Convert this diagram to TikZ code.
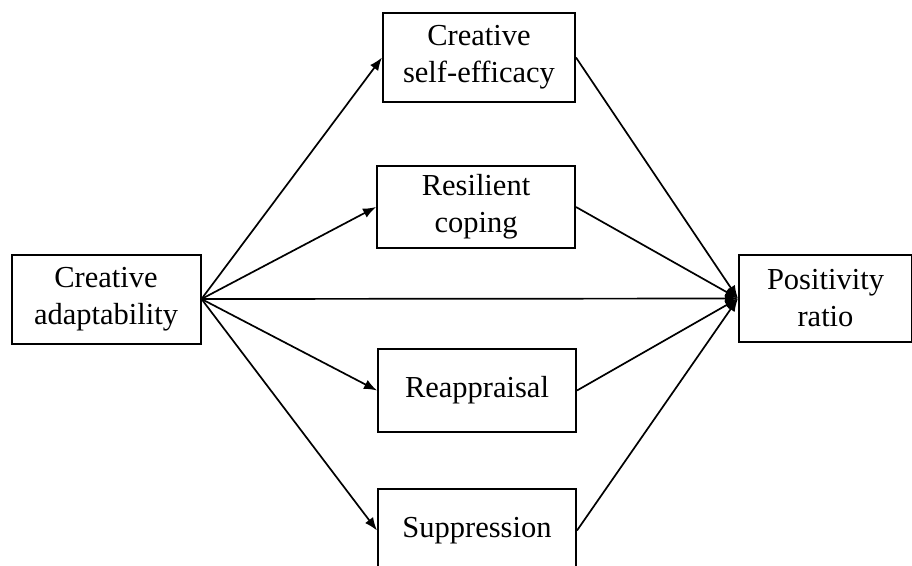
\documentclass[tikz,border=0pt]{standalone}
\usepackage{fontspec}
\setmainfont{Liberation Serif}
\usetikzlibrary{arrows.meta}

\begin{document}
\begin{tikzpicture}[x=1pt,y=-1pt,
  box/.style={rectangle,draw,line width=2pt,align=center,inner sep=0pt,
    font=\fontsize{30.5}{37}\selectfont},
  path/.style={line width=1.7pt,-{Latex[length=13pt,width=10pt]}}]
    \useasboundingbox (0,0) rectangle (912,565);
    % Predictor and outcome
    \node[box,minimum width=189pt,minimum height=89pt] (adapt) at (106,299)
      {Creative\\adaptability};
    \node[box,minimum width=173pt,minimum height=87pt] (ratio) at (825.5,298.5)
      {Positivity\\ratio};
    % Mediators
    \node[box,minimum width=192pt,minimum height=89pt] (efficacy) at (479,57.5)
      {Creative\\self-efficacy};
    \node[box,minimum width=198pt,minimum height=82pt] (coping) at (476,207)
      {Resilient\\coping};
    \node[box,minimum width=198pt,minimum height=83pt] (reapp) at (477,390.5)
      {Reappraisal};
    \node[box,minimum width=198pt,minimum height=83pt] (suppr) at (477,530.5)
      {Suppression};
    % Paths
    \foreach \m in {efficacy,coping,reapp,suppr}{
      \draw[path] (adapt.east) -- (\m.west);
      \draw[path] (\m.east) -- (ratio.west);
    }
    \draw[path] (adapt.east) -- (ratio.west);
\end{tikzpicture}
\end{document}
